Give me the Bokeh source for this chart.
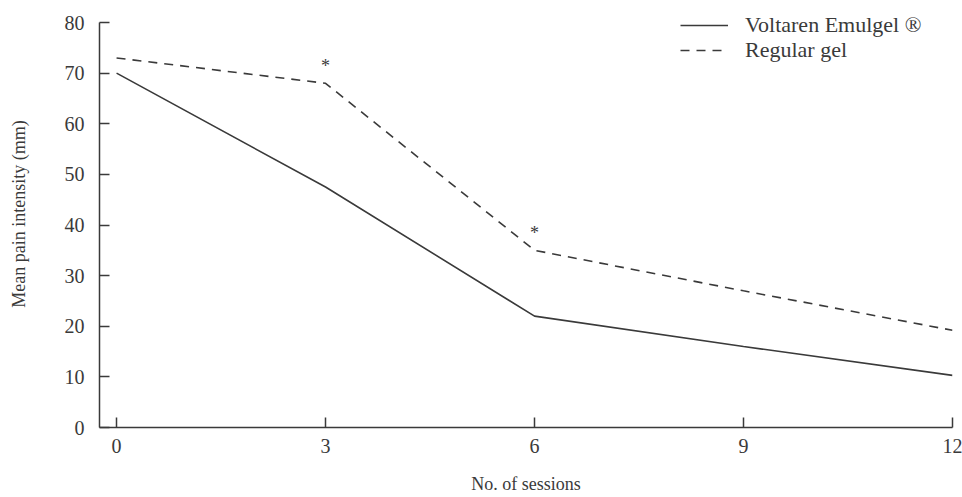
from bokeh.plotting import figure
from bokeh.models import Range1d, Legend, LegendItem
from bokeh.core.properties import value
from bokeh.embed import file_html
from bokeh.resources import INLINE

sessions = [0, 3, 6, 9, 12]
voltaren = [70, 47.5, 22, 16, 10.3]
regular = [73, 68, 35, 27, 19.2]
star_sessions = [3, 6]
star_values = [71.5, 38.5]
x_ticks = [0, 3, 6, 9, 12]
y_ticks = [0, 10, 20, 30, 40, 50, 60, 70, 80]
series_names = ["Voltaren Emulgel ®", "Regular gel"]

FONT = "Liberation Serif"
INK = "#3a3a3a"

p = figure(width=962, height=497, output_backend="svg", toolbar_location=None,
           x_range=Range1d(-0.245, 12), y_range=Range1d(0, 84.35),
           min_border_left=99, min_border_right=10, min_border_top=0, min_border_bottom=70)
p.outline_line_color = None
p.grid.visible = False
p.background_fill_color = "white"
p.border_fill_color = "white"

r1 = p.line(sessions, voltaren, line_color=INK, line_width=1.6)
r2 = p.line(sessions, regular, line_color=INK, line_width=1.6, line_dash="9 7")
p.text(star_sessions, star_values, text=["*", "*"], text_font=value(FONT),
       text_font_size="18px", text_color=INK, text_align="center", text_baseline="middle")

for ax in (p.xaxis[0], p.yaxis[0]):
    ax.major_tick_in = 10
    ax.major_tick_out = 0
    ax.minor_tick_line_color = None
    ax.axis_line_color = INK
    ax.axis_line_width = 1.5
    ax.major_tick_line_color = INK
    ax.major_tick_line_width = 1.5
    ax.major_label_text_font = FONT
    ax.major_label_text_color = INK
    ax.major_label_text_font_size = "20px"
    ax.axis_label_text_font = FONT
    ax.axis_label_text_color = INK
    ax.axis_label_text_font_style = "normal"
    ax.axis_label_text_font_size = "18px"

p.xaxis.ticker = x_ticks
p.yaxis.ticker = y_ticks
p.xaxis.bounds = (-0.245, 12)
p.yaxis.bounds = (0, 80)
p.xaxis.axis_label = "No. of sessions"
p.yaxis.axis_label = "Mean pain intensity (mm)"
p.xaxis.major_label_standoff = 11
p.xaxis.axis_label_standoff = 18
p.yaxis.major_label_standoff = 15
p.yaxis.axis_label_standoff = 33

legend_positions = [(581, 389), (581, 364)]
for name, rend, loc in zip(series_names, [r1, r2], legend_positions):
    lg = Legend(items=[LegendItem(label=name, renderers=[rend])],
                border_line_color=None, background_fill_alpha=0,
                label_text_font=FONT, label_text_font_size="22px", label_text_color=INK,
                glyph_width=48, glyph_height=14, label_height=14, spacing=0,
                padding=0, margin=0, label_standoff=17)
    p.add_layout(lg, "center")
    lg.location = loc

open("out.html", "w").write(file_html(p, INLINE))
